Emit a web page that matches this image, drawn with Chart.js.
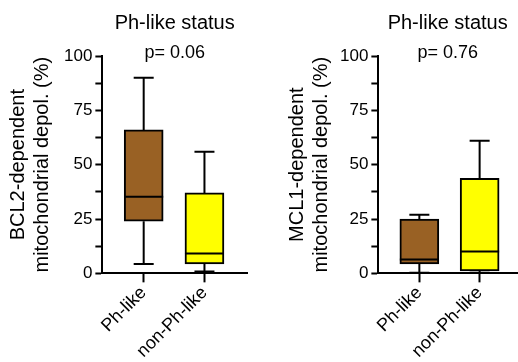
<!DOCTYPE html>
<html>
<head>
<meta charset="utf-8">
<script src="https://cdn.jsdelivr.net/npm/chart.js@4.4.0/dist/chart.umd.min.js"></script>
<style>
  body { margin: 0; background: #fff; }
  .wrap { position: relative; width: 518px; height: 362px; }
  .box { position: absolute; top: 0; width: 259px; height: 362px; }
</style>
</head>
<body>
<div class="wrap">
  <div class="box" style="left:0"><canvas id="bcl2"></canvas></div>
  <div class="box" style="left:259px"><canvas id="mcl1"></canvas></div>
</div>
<script>
// Groups and colours
const categories = ['Ph-like', 'non-Ph-like'];
const boxColors = ['#996124', '#ffff00'];

// BCL2-dependent depolarisation (%), box plot stats per group
const bcl2Min = [4.3, 0.8];
const bcl2Q1 = [24, 4.3];
const bcl2Median = [35.2, 9.1];
const bcl2Q3 = [66, 37];
const bcl2Max = [90, 56];

// MCL1-dependent depolarisation (%)
const mcl1Min = [0.3, 0.3];
const mcl1Q1 = [4.3, 1.1];
const mcl1Median = [6.4, 10.1];
const mcl1Q3 = [25, 43.7];
const mcl1Max = [27, 61];

// Axis ticks
const yTicks = [0, 25, 50, 75, 100];
const yMinorTicks = [12.5, 37.5, 62.5, 87.5];

Chart.defaults.font.family = "'Liberation Sans', Arial, sans-serif";
Chart.defaults.color = '#000';

// Whiskers, caps and median lines drawn on top of the floating bars
const boxWhiskers = {
    id: 'boxWhiskers',
    afterDatasetsDraw (chart, args, opts) {
        const { ctx } = chart;
        const x = chart.scales.x;
        const y = chart.scales.y;
        const bars = chart.getDatasetMeta(0).data;
        ctx.save();
        ctx.strokeStyle = '#000';
        ctx.lineWidth = 2;
        categories.forEach((c, i) => {
            const px = x.getPixelForValue(i);
            const half = bars[i].width / 2;
            const capHalf = 10;
            const yMin = y.getPixelForValue(opts.min[i]);
            const yQ1 = y.getPixelForValue(opts.q1[i]);
            const yMed = y.getPixelForValue(opts.median[i]);
            const yQ3 = y.getPixelForValue(opts.q3[i]);
            const yMax = y.getPixelForValue(opts.max[i]);
            ctx.beginPath();
            // upper whisker + cap
            ctx.moveTo(px, yQ3); ctx.lineTo(px, yMax);
            ctx.moveTo(px - capHalf, yMax); ctx.lineTo(px + capHalf, yMax);
            // lower whisker + cap
            ctx.moveTo(px, yQ1); ctx.lineTo(px, yMin);
            ctx.moveTo(px - capHalf, yMin); ctx.lineTo(px + capHalf, yMin);
            // median
            ctx.moveTo(px - half, yMed); ctx.lineTo(px + half, yMed);
            ctx.stroke();
        });
        ctx.restore();
    }
};

// p-value text just above the plot area
const pValue = {
    id: 'pValue',
    afterDraw (chart, args, opts) {
        const { ctx, chartArea } = chart;
        ctx.save();
        ctx.font = "18px 'Liberation Sans', Arial, sans-serif";
        ctx.fillStyle = '#000';
        ctx.textAlign = 'center';
        ctx.textBaseline = 'middle';
        ctx.fillText(opts.text, (chartArea.left + chartArea.right) / 2, chartArea.top - 3);
        ctx.restore();
    }
};

const buildChart = (id, cfg) => {
    return new Chart(document.getElementById(id), {
        type: 'bar',
        data: {
            datasets: [{
                data: categories.map((c, i) => ({ x: i, y: [cfg.q1[i], cfg.q3[i]] })),
                backgroundColor: boxColors,
                borderColor: '#000',
                borderWidth: 2,
                borderSkipped: false,
                barThickness: 39
            }]
        },
        options: {
            responsive: true,
            maintainAspectRatio: false,
            animation: false,
            layout: { padding: cfg.padding },
            plugins: {
                legend: { display: false },
                tooltip: { enabled: false },
                title: {
                    display: true,
                    text: 'Ph-like status',
                    fullSize: false,
                    font: { size: 20, weight: 'normal' },
                    color: '#000',
                    padding: { top: 11, bottom: 21 }
                },
                boxWhiskers: { min: cfg.min, q1: cfg.q1, median: cfg.median, q3: cfg.q3, max: cfg.max },
                pValue: { text: cfg.pText }
            },
            scales: {
                x: {
                    type: 'linear',
                    offset: false,
                    min: cfg.xMin,
                    max: cfg.xMax,
                    afterBuildTicks: (s) => { s.ticks = categories.map((c, i) => ({ value: i })); },
                    ticks: {
                        callback: (v) => categories[v],
                        autoSkip: false,
                        minRotation: 45,
                        maxRotation: 45,
                        font: { size: 18 },
                        color: '#000',
                        padding: 0
                    },
                    grid: { offset: false, drawOnChartArea: false, tickLength: 9, tickColor: '#000', tickWidth: 2 },
                    border: { color: '#000', width: 2 }
                },
                y: {
                    min: 0,
                    max: 100,
                    afterBuildTicks: (s) => {
                        s.ticks = yTicks.concat(yMinorTicks).sort((a, b) => a - b).map((v) => ({ value: v }));
                    },
                    ticks: {
                        callback: (v) => yTicks.includes(v) ? v : '',
                        autoSkip: false,
                        font: { size: 17 },
                        color: '#000',
                        padding: 3
                    },
                    title: {
                        display: true,
                        text: cfg.yTitle,
                        font: { size: 20 },
                        color: '#000',
                        padding: { top: 0, bottom: cfg.titleGap }
                    },
                    grid: { drawOnChartArea: false, tickLength: 7, tickColor: '#000', tickWidth: 2 },
                    border: { color: '#000', width: 2 }
                }
            }
        },
        plugins: [boxWhiskers, pValue]
    });
};

buildChart('bcl2', {
    min: bcl2Min, q1: bcl2Q1, median: bcl2Median, q3: bcl2Q3, max: bcl2Max,
    pText: 'p= 0.06',
    yTitle: ['BCL2-dependent', 'mitochondrial depol. (%)'],
    titleGap: 7,
    xMin: -0.68,
    xMax: 1.70,
    padding: { left: 6, right: 12, top: 0, bottom: 0 }
});

buildChart('mcl1', {
    min: mcl1Min, q1: mcl1Q1, median: mcl1Median, q3: mcl1Q3, max: mcl1Max,
    pText: 'p= 0.76',
    yTitle: ['MCL1-dependent', 'mitochondrial depol. (%)'],
    titleGap: 4,
    xMin: -0.68,
    xMax: 1.62,
    padding: { left: 26, right: 1, top: 0, bottom: 0 }
});
</script>
</body>
</html>
